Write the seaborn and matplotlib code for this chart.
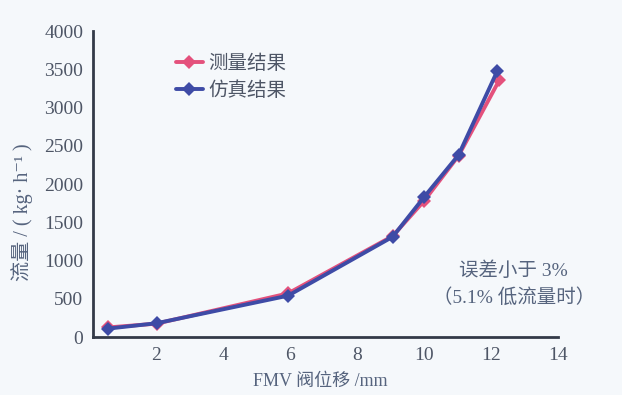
import matplotlib
matplotlib.use("Agg")
import matplotlib.pyplot as plt
from matplotlib.lines import Line2D
import seaborn as sns
import pandas as pd

# FMV valve displacement (mm) and mass flow (kg/h)
disp_measured = [0.55, 2.0, 5.93, 9.06, 10.0, 11.03, 12.25]
flow_measured = [125, 175, 570, 1320, 1780, 2370, 3360]
disp_simulated = [0.55, 2.0, 5.93, 9.06, 10.0, 11.03, 12.19]
flow_simulated = [110, 180, 540, 1310, 1830, 2380, 3480]
series_names = ["测量结果", "仿真结果"]
x_ticks = [2, 4, 6, 8, 10, 12, 14]
y_ticks = [0, 500, 1000, 1500, 2000, 2500, 3000, 3500, 4000]

df = pd.concat([
    pd.DataFrame({"disp": disp_measured, "flow": flow_measured, "series": series_names[0]}),
    pd.DataFrame({"disp": disp_simulated, "flow": flow_simulated, "series": series_names[1]}),
])

sns.set_theme(style="white")
fams = ["Liberation Serif", "Noto Sans CJK SC", "DejaVu Sans"]
plt.rcParams["font.family"] = fams

bg = "#f5f8fb"
spine_c = "#333a48"
text_c = "#4e5666"
label_c = "#56647e"
palette = {series_names[0]: "#e4517c", series_names[1]: "#3e4ba6"}

fig = plt.figure(figsize=(6.22, 3.95), dpi=100, facecolor=bg)
ax = fig.add_axes([0.1495, 0.1468, 0.7475, 0.7747], facecolor=bg)

sns.lineplot(data=df, x="disp", y="flow", hue="series", palette=palette,
             marker="D", markersize=7, markeredgewidth=0, linewidth=2.8,
             sort=False, estimator=None, ax=ax, legend=False)

ax.set_xlim(0.1, 14)
ax.set_ylim(0, 4000)
ax.set_xticks(x_ticks)
ax.set_yticks(y_ticks)
for s in ["top", "right"]:
    ax.spines[s].set_visible(False)
for s in ["left", "bottom"]:
    ax.spines[s].set_color(spine_c)
    ax.spines[s].set_linewidth(2.0)
ax.tick_params(axis="both", direction="in", length=5, width=2.0, color=spine_c,
               labelsize=14, labelcolor=text_c, pad=7)
ax.set_xlabel("")
ax.set_ylabel("")

# legend entries
handles = [Line2D([], [], color=palette[n], marker="D", markersize=7,
                  markeredgewidth=0, linewidth=2.8) for n in series_names]
leg = ax.legend(handles, series_names, loc="upper left",
                bbox_to_anchor=(0.14, 0.985), frameon=False, handlelength=1.4,
                handletextpad=0.3, labelspacing=0.3,
                prop={"family": ["Noto Sans CJK SC"], "size": 14})
for t in leg.get_texts():
    t.set_color(text_c)

fig.text(0.515, 0.035, "FMV 阀位移 /mm", ha="center", va="center",
         fontsize=13, color=label_c, family=fams)
fig.text(0.035, 0.462, "流量 / ( kg· h⁻¹ )", ha="center", va="center",
         rotation=90, fontsize=14.5, color=label_c, family=fams)

ax.text(0.905, 0.218, "误差小于 3%", transform=ax.transAxes, ha="center",
        va="center", fontsize=14, color=label_c, family=fams)
ax.text(0.905, 0.13, "（5.1% 低流量时）", transform=ax.transAxes, ha="center",
        va="center", fontsize=14, color=label_c, family=fams)

fig.savefig("out.png", dpi=100, facecolor=bg)
